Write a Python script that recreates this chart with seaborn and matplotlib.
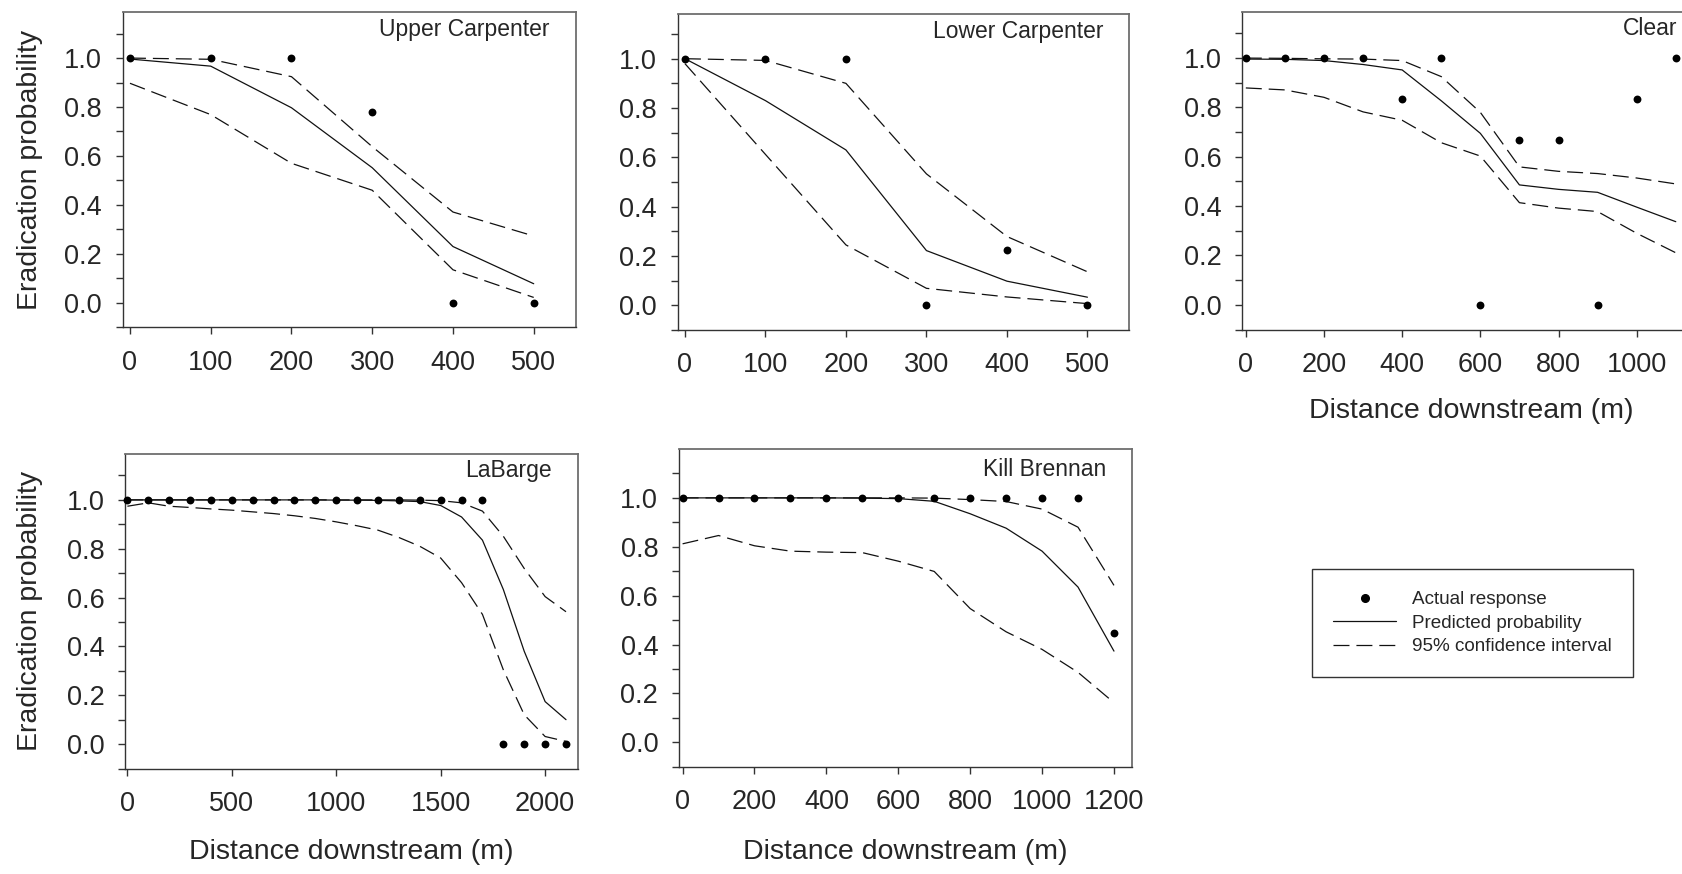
import matplotlib
matplotlib.use("Agg")
import matplotlib.pyplot as plt
from matplotlib.lines import Line2D
import numpy as np
import pandas as pd
import seaborn as sns

# ---------------- data ----------------
uc_x = [0, 100, 200, 300, 400, 500]
uc_actual = [1.0, 1.0, 1.0, 0.78, 0.0, 0.0]
uc_pred = [0.996, 0.967, 0.797, 0.552, 0.230, 0.078]
uc_upper = [1.0, 0.995, 0.924, 0.638, 0.371, 0.273]
uc_lower = [0.897, 0.769, 0.570, 0.460, 0.135, 0.022]

lc_x = [0, 100, 200, 300, 400, 500]
lc_actual = [1.0, 1.0, 1.0, 0.0, 0.224, 0.0]
lc_pred = [1.0, 0.83, 0.63, 0.222, 0.098, 0.033]
lc_upper = [1.0, 0.993, 0.90, 0.533, 0.279, 0.136]
lc_lower = [0.98, 0.612, 0.245, 0.069, 0.034, 0.007]

cl_x = [0, 100, 200, 300, 400, 500, 600, 700, 800, 900, 1000, 1100]
cl_actual = [1.0, 1.0, 1.0, 1.0, 0.835, 1.0, 0.0, 0.668, 0.668, 0.0, 0.835, 1.0]
cl_pred = [0.996, 0.995, 0.99, 0.974, 0.952, 0.827, 0.695, 0.486, 0.468, 0.456, 0.396, 0.337]
cl_upper = [1.0, 0.999, 0.997, 0.996, 0.99, 0.925, 0.78, 0.559, 0.541, 0.532, 0.514, 0.49]
cl_lower = [0.879, 0.871, 0.841, 0.782, 0.748, 0.657, 0.603, 0.414, 0.392, 0.378, 0.29, 0.211]

lb_x = [0, 100, 200, 300, 400, 500, 600, 700, 800, 900, 1000,
        1100, 1200, 1300, 1400, 1500, 1600, 1700, 1800, 1900, 2000, 2100]
lb_actual = [1.0, 1.0, 1.0, 1.0, 1.0, 1.0, 1.0, 1.0, 1.0, 1.0, 1.0,
             1.0, 1.0, 1.0, 1.0, 1.0, 1.0, 1.0, 0.0, 0.0, 0.0, 0.0]
lb_pred = [1.0, 1.0, 1.0, 1.0, 1.0, 1.0, 1.0, 1.0, 1.0, 1.0, 0.999,
           0.999, 0.998, 0.996, 0.993, 0.977, 0.93, 0.835, 0.633, 0.38, 0.174, 0.10]
lb_upper = [1.0, 1.0, 1.0, 1.0, 1.0, 1.0, 1.0, 1.0, 1.0, 1.0, 1.0,
            1.0, 1.0, 1.0, 0.999, 0.997, 0.988, 0.954, 0.851, 0.719, 0.604, 0.542]
lb_lower = [0.974, 0.988, 0.974, 0.969, 0.963, 0.958, 0.951, 0.944, 0.935, 0.924, 0.91,
            0.894, 0.876, 0.846, 0.81, 0.762, 0.661, 0.531, 0.304, 0.12, 0.031, 0.011]

kb_x = [0, 100, 200, 300, 400, 500, 600, 700, 800, 900, 1000, 1100, 1200]
kb_actual = [1.0, 1.0, 1.0, 1.0, 1.0, 1.0, 1.0, 1.0, 1.0, 1.0, 1.0, 1.0, 0.446]
kb_pred = [1.0, 1.0, 1.0, 1.0, 1.0, 0.999, 0.997, 0.986, 0.935, 0.876, 0.782, 0.635, 0.373]
kb_upper = [1.0, 1.0, 1.0, 1.0, 1.0, 1.0, 1.0, 0.999, 0.993, 0.985, 0.954, 0.88, 0.642]
kb_lower = [0.812, 0.846, 0.804, 0.782, 0.778, 0.776, 0.741, 0.699, 0.547, 0.452, 0.38, 0.286, 0.162]

site_names = ["Upper Carpenter", "Lower Carpenter", "Clear", "LaBarge", "Kill Brennan"]
x_ticks = [[0, 100, 200, 300, 400, 500],
           [0, 100, 200, 300, 400, 500],
           [0, 200, 400, 600, 800, 1000],
           [0, 500, 1000, 1500, 2000],
           [0, 200, 400, 600, 800, 1000, 1200]]
legend_labels = ["Actual response", "Predicted probability", "95% confidence interval"]
y_label = "Eradication probability"
x_label = "Distance downstream (m)"

series = [
    (uc_x, uc_actual, uc_pred, uc_upper, uc_lower),
    (lc_x, lc_actual, lc_pred, lc_upper, lc_lower),
    (cl_x, cl_actual, cl_pred, cl_upper, cl_lower),
    (lb_x, lb_actual, lb_pred, lb_upper, lb_lower),
    (kb_x, kb_actual, kb_pred, kb_upper, kb_lower),
]

# ---------------- style ----------------
sns.set_style("ticks")
plt.rcParams["font.family"] = ["Liberation Sans", "DejaVu Sans"]
plt.rcParams["lines.scale_dashes"] = False

W, H = 1683, 874
fig = plt.figure(figsize=(W / 100, H / 100), dpi=100)

# axes boxes in pixels: left, top, right, bottom
boxes = [
    (122.7, 12.3, 575.7, 327.3),
    (677.7, 14.3, 1129.3, 330.0),
    (1242.3, 11.7, 1700.0, 329.5),
    (125.3, 453.5, 577.7, 768.5),
    (679.0, 449.0, 1132.3, 766.7),
]
xlims = [(-9, 552), (-9, 552), (-9, 1162), (-10, 2156), (-10, 1251)]
ylims = [(-0.1, 1.187), (-0.1, 1.18), (-0.1, 1.188), (-0.1, 1.19), (-0.1, 1.2)]
title_off = [(-26, -16.7), (-26, -16.7), (-23, -17.0), (-26, -16.5), (-26, -20.0)]
show_ylabel = [True, False, False, True, False]
show_xlabel = [False, False, True, True, True]
ylabel_x = [-0.1766, None, None, -0.1826, None]
xlabel_y = [None, None, -0.2168, -0.2238, -0.2276]

line_col = "#111111"
dash = (0, (11.5, 5.0))
lw = 0.9

for i, (box, (xs, act, pred, up, lo)) in enumerate(zip(boxes, series)):
    l, t, r, b = box
    ax = fig.add_axes([l / W, 1 - b / H, (r - l) / W, (b - t) / H])
    df = pd.DataFrame({"x": xs, "actual": act, "pred": pred, "upper": up, "lower": lo})
    sns.lineplot(data=df, x="x", y="upper", ax=ax, color=line_col, lw=lw, linestyle=dash)
    sns.lineplot(data=df, x="x", y="lower", ax=ax, color=line_col, lw=lw, linestyle=dash)
    sns.lineplot(data=df, x="x", y="pred", ax=ax, color=line_col, lw=lw)
    sns.scatterplot(data=df, x="x", y="actual", ax=ax, color="black", s=32,
                    linewidth=0, zorder=5, clip_on=False)
    ax.set_xlim(*xlims[i])
    ax.set_ylim(*ylims[i])
    ax.set_xticks(x_ticks[i])
    ax.set_xticklabels([str(v) for v in x_ticks[i]])
    ax.set_yticks([0.0, 0.2, 0.4, 0.6, 0.8, 1.0])
    ax.set_yticklabels(["0.0", "0.2", "0.4", "0.6", "0.8", "1.0"])
    ax.set_yticks([-0.1, 0.1, 0.3, 0.5, 0.7, 0.9, 1.1], minor=True)
    ax.tick_params(axis="both", which="both", direction="out", length=5, width=1,
                   color="#333333", labelsize=19.5)
    ax.tick_params(axis="y", which="major", pad=10)
    ax.tick_params(axis="x", which="major", pad=11)
    for side in ["left", "bottom"]:
        ax.spines[side].set_color("#333333")
        ax.spines[side].set_linewidth(1.0)
    for side in ["top", "right"]:
        ax.spines[side].set_color("#6e6e6e")
        ax.spines[side].set_linewidth(1.3)
        ax.spines[side].set_visible(True)
    ax.set_xlabel("")
    ax.set_ylabel("")
    if show_ylabel[i]:
        ax.set_ylabel(y_label, fontsize=20.5)
        ax.yaxis.set_label_coords(ylabel_x[i], 0.5)
    if show_xlabel[i]:
        ax.set_xlabel(x_label, fontsize=20.5)
        ax.xaxis.set_label_coords(0.5, xlabel_y[i])
    dx, dy = title_off[i]
    ax.annotate(site_names[i], xy=(1, 1), xycoords="axes fraction",
                xytext=(dx * 0.72, dy * 0.72), textcoords="offset points",
                ha="right", va="center", fontsize=16.5)

handles = [
    Line2D([], [], marker="o", ls="none", color="black", markersize=5.5),
    Line2D([], [], color=line_col, lw=lw),
    Line2D([], [], color=line_col, lw=lw, linestyle=dash),
]
leg = fig.legend(handles, legend_labels, loc="upper left",
                 bbox_to_anchor=(1311.7 / W, 1 - 569.3 / H), bbox_transform=fig.transFigure,
                 borderaxespad=0, borderpad=1.15, handlelength=3.3, handletextpad=0.85,
                 labelspacing=0.33, fancybox=False, fontsize=13.6, numpoints=1,
                 framealpha=1)
leg.get_frame().set_edgecolor("#333333")
leg.get_frame().set_linewidth(1.0)

fig.savefig("out.png", dpi=100)
